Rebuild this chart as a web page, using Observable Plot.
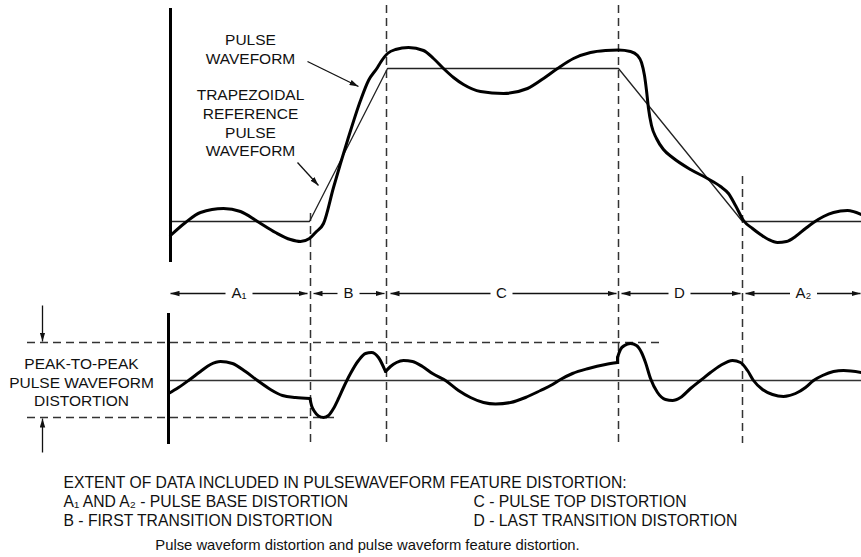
<!DOCTYPE html>
<html>
<head>
<meta charset="utf-8">
<script src="https://cdn.jsdelivr.net/npm/d3@7"></script>
<script src="https://cdn.jsdelivr.net/npm/@observablehq/plot@0.6"></script>
<style>
  html, body { margin: 0; padding: 0; background: #fff; }
  #chart svg { display: block; }
</style>
</head>
<body>
<div id="chart"></div>
<script>
// ---- Data (time units and level units) ----
// Actual pulse waveform (top panel)
const pulseTime  = [170,185,200,223,240,257,275,290,300,309,316,323,333,347,360,368,377,380,387,395,408,423,433,443,453,463,480,503,527,543,557,573,590,605,618,630,637,641,644,646,648,651,656,663,672,690,707,720,728,735,743,752,760,768,777,786,795,805,813,823,833,847,861];
const pulseLevel = [235,222,212,208,211,221,232,239,241,238,231,223,187,140,100,80,67,62,53,49,47,50,58,68,77,84,91,93,88,78,68,58,52,50,49.5,51,55,62,75,90,108,125,138,149,157,169,178,186,193,205,220,228,234,239,242,241,236,228,222,216,212,210,214];

// Trapezoidal reference pulse waveform
const trapTime  = [170,309,387,618,742,861];
const trapLevel = [221,221,68,68,221,221];

// Pulse waveform distortion (bottom panel), one smooth piece per feature region
const distBaseTime   = [168,178,188,200,210,220,232,245,257,270,282,295,309.5];
const distBaseLevel  = [393,387,380,371,364,361,363,371,380,389,395,397,398];
const distFirstTime  = [309.5,311,314,318,323,328,333,338,343,350,358,365,371,378,385];
const distFirstLevel = [398,405,411,415.5,417,415,408,398,387,373,360,353,352,357,371];
const distTopTime    = [385,390,396,403,412,422,432,445,458,470,483,495,510,525,540,552,560,572,588,605,617];
const distTopLevel   = [371,366,362,360,361,366,373,380,390,397,402,403.5,402,397,390,384,379,373,368,364,362];
const distStepTime   = [617,617];
const distStepLevel  = [362,357];
const distLastTime   = [617,620,624,630,636,641,645,650,657,665,672,680,690,700,710,720,732,740,747,753,762,772,783,795,805,813,822,833,843,861];
const distLastLevel  = [357,349,345,343,345,352,362,378,392,399,400,397,388,380,372,365,360,362,370,380,389,394,396,393,387,380,375,371,370,372];

const distReference = [380];           // zero-distortion reference level
const peakLevels = [342, 417];         // peak-to-peak distortion bounds

// Feature boundaries (dashed lines)
const boundaryTime   = [310, 386, 618, 742];
const boundaryTop    = [213, 5, 5, 176];
const boundaryBottom = [445, 445, 445, 443];

// Features along the time axis
const featureLabels = ["A₁", "B", "C", "D", "A₂"];
const featureStart  = [170, 313, 390, 621, 745];
const featureEnd    = [307, 384, 616, 740, 860];
const featureCenter = [238.5, 348, 501, 679, 803];

// Texts
const pulseLabel = "PULSE\nWAVEFORM";
const trapLabel = "TRAPEZOIDAL\nREFERENCE\nPULSE\nWAVEFORM";
const p2pLabel = "PEAK-TO-PEAK\nPULSE WAVEFORM\nDISTORTION";
const notesHeading = "EXTENT OF DATA INCLUDED IN PULSEWAVEFORM FEATURE DISTORTION:";
const notesLeft  = ["A₁ AND A₂ - PULSE BASE DISTORTION", "B - FIRST TRANSITION DISTORTION"];
const notesRight = ["C - PULSE TOP DISTORTION", "D - LAST TRANSITION DISTORTION"];
const caption = "Pulse waveform distortion and pulse waveform feature distortion.";

// ---- Tables built from the arrays ----
const toRows = (ts, vs, seg) => ts.map((t, i) => ({t, v: vs[i], seg}));
const pulse = toRows(pulseTime, pulseLevel, "pulse");
const trap = toRows(trapTime, trapLevel, "trap");
const dist = [
  ...toRows(distBaseTime, distBaseLevel, "A1"),
  ...toRows(distFirstTime, distFirstLevel, "B"),
  ...toRows(distTopTime, distTopLevel, "C"),
  ...toRows(distLastTime, distLastLevel, "D")
];
const step = toRows(distStepTime, distStepLevel, "step");
const boundaries = boundaryTime.map((t, i) => ({t, y1: boundaryTop[i], y2: boundaryBottom[i]}));
const features = featureLabels.map((label, i) => ({label, start: featureStart[i], end: featureEnd[i], c: featureCenter[i]}));
const rowY = 293;
const featureArrows = features.flatMap(f => {
  const gap = f.label.length > 1 ? 13.5 : 11;
  return [
    {x1: f.c - gap, x2: f.start, y: rowY},
    {x1: f.c + gap, x2: f.end, y: rowY}
  ];
});
const pointerArrows = [
  {x1: 307, y1: 61, x2: 358, y2: 86},
  {x1: 297, y1: 162, x2: 318, y2: 185},
  {x1: 42, y1: 305, x2: 42, y2: 341},
  {x1: 42, y1: 452, x2: 42, y2: 418}
];

function headMarker(color) {
  const m = d3.create("svg:marker")
    .attr("viewBox", "0 -3 9 6")
    .attr("markerUnits", "userSpaceOnUse")
    .attr("markerWidth", 9)
    .attr("markerHeight", 6)
    .attr("refX", 9)
    .attr("refY", 0)
    .attr("orient", "auto");
  m.append("path").attr("d", "M0,-2.7L9,0L0,2.7Z").attr("fill", color).attr("stroke", "none");
  return m.node();
}

function build(marker) {
  const font = "'Liberation Sans', Arial, Helvetica, sans-serif";
  return Plot.plot({
    width: 861,
    height: 557,
    margin: 0,
    x: {domain: [0, 861], range: [0, 861], axis: null},
    y: {domain: [0, 557], range: [0, 557], axis: null},
    style: {fontFamily: font, background: "#fff", color: "#111"},
    marks: [
      // dashed feature boundaries
      Plot.ruleX(boundaries, {x: "t", y1: "y1", y2: "y2", stroke: "#333", strokeWidth: 1.5, strokeDasharray: "8,5"}),
      // peak-to-peak dashed lines
      Plot.ruleY(peakLevels, {y: d => d, x1: [27, 27], x2: [659, 338], stroke: "#333", strokeWidth: 1.5, strokeDasharray: "8,5"}),
      // zero distortion reference
      Plot.ruleY(distReference, {y: d => d, x1: 168, x2: 861, stroke: "#333", strokeWidth: 1.4}),
      // trapezoid
      Plot.line(trap, {x: "t", y: "v", stroke: "#222", strokeWidth: 1.3}),
      // pulse
      Plot.line(pulse, {x: "t", y: "v", curve: "monotone-x", stroke: "#000", strokeWidth: 3}),
      // distortion
      Plot.line(dist, {x: "t", y: "v", z: "seg", curve: "monotone-x", stroke: "#000", strokeWidth: 3}),
      Plot.line(step, {x: "t", y: "v", stroke: "#000", strokeWidth: 3}),
      // thick vertical axes
      Plot.ruleX([170], {y1: 8, y2: 262, stroke: "#000", strokeWidth: 3}),
      Plot.ruleX([168], {y1: 313, y2: 444, stroke: "#000", strokeWidth: 3}),
      // feature extent arrows
      Plot.link(featureArrows, {x1: "x1", x2: "x2", y1: "y", y2: "y", stroke: "#111", strokeWidth: 1.3, markerEnd: marker}),
      Plot.text(features, {x: "c", y: rowY, text: "label", fontSize: 15, fill: "#111"}),
      // pointer arrows
      Plot.link(pointerArrows, {x1: "x1", y1: "y1", x2: "x2", y2: "y2", stroke: "#111", strokeWidth: 1.3, markerEnd: marker}),
      // labels
      Plot.text([pulseLabel], {x: 250, y: 47.5, text: d => d, fontSize: 15.5, lineHeight: 1.22, fill: "#111"}),
      Plot.text([trapLabel], {x: 250, y: 121.5, text: d => d, fontSize: 15.5, lineHeight: 1.22, fill: "#111"}),
      Plot.text([p2pLabel], {x: 81, y: 381, text: d => d, fontSize: 15.5, lineHeight: 1.22, fill: "#111"}),
      // notes
      Plot.text([notesHeading], {x: 63, y: 482, text: d => d, textAnchor: "start", fontSize: 15.7, fill: "#111"}),
      Plot.text(notesLeft, {x: 63, y: [501, 520], text: d => d, textAnchor: "start", fontSize: 15.7, fill: "#111"}),
      Plot.text(notesRight, {x: 473, y: [501, 520], text: d => d, textAnchor: "start", fontSize: 15.7, fill: "#111"}),
      Plot.text([caption], {x: 367, y: 545, text: d => d, fontSize: 14.8, fill: "#111"})
    ]
  });
}

let chart;
try {
  chart = build(headMarker);
} catch (e) {
  chart = build("arrow");
}
document.getElementById("chart").appendChild(chart);
</script>
</body>
</html>
